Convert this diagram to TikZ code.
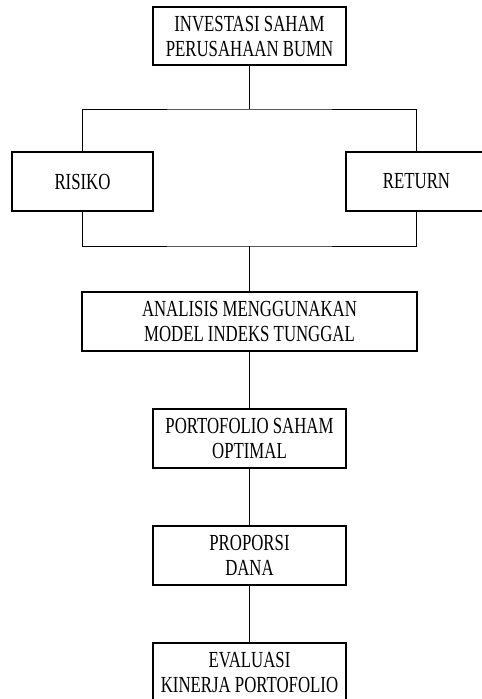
\documentclass[tikz,border=0pt]{standalone}
\usepackage{fontspec}
\newfontfamily\boxfont{Liberation Serif}[FakeStretch=0.73]
\begin{document}
\begin{tikzpicture}[x=1pt,y=-1pt,
  box/.style={draw, line width=1.3pt, inner sep=0pt, align=center,
    minimum height=59pt, font=\boxfont\fontsize{23}{25}\selectfont},
  link/.style={line width=0.8pt}]
\useasboundingbox (0,0) rectangle (482,699);
\clip (0,0) rectangle (482,699);
\fill[white] (0,0) rectangle (482,699);
\node[box, minimum width=193pt, minimum height=58pt] (top) at (249.5,36) {INVESTASI SAHAM\\PERUSAHAAN BUMN};
\node[box, minimum width=141pt] (risiko) at (82.5,181.5) {RISIKO};
\node[box, minimum width=141pt] (return) at (416.5,181.5) {RETURN};
\node[box, minimum width=335pt] (analisis) at (249.5,321.5) {ANALISIS MENGGUNAKAN\\MODEL INDEKS TUNGGAL};
\node[box, minimum width=193pt] (porto) at (249.5,438.5) {PORTOFOLIO SAHAM\\OPTIMAL};
\node[box, minimum width=193pt] (proporsi) at (249.5,555.4) {PROPORSI\\DANA};
\node[box, minimum width=193pt] (eval) at (249.5,672.5) {EVALUASI\\KINERJA PORTOFOLIO};
\coordinate (j1) at (249.5,109);
\coordinate (j2) at (249.5,246);
\draw[link] (top.south) -- (j1);
\draw[link] (risiko.north) |- (j1) -| (return.north);
\draw[link] (risiko.south) |- (j2) -| (return.south);
\draw[link] (j2) -- (analisis.north);
\draw[link] (analisis.south) -- (porto.north);
\draw[link] (porto.south) -- (proporsi.north);
\draw[link] (proporsi.south) -- (eval.north);
\end{tikzpicture}
\end{document}
